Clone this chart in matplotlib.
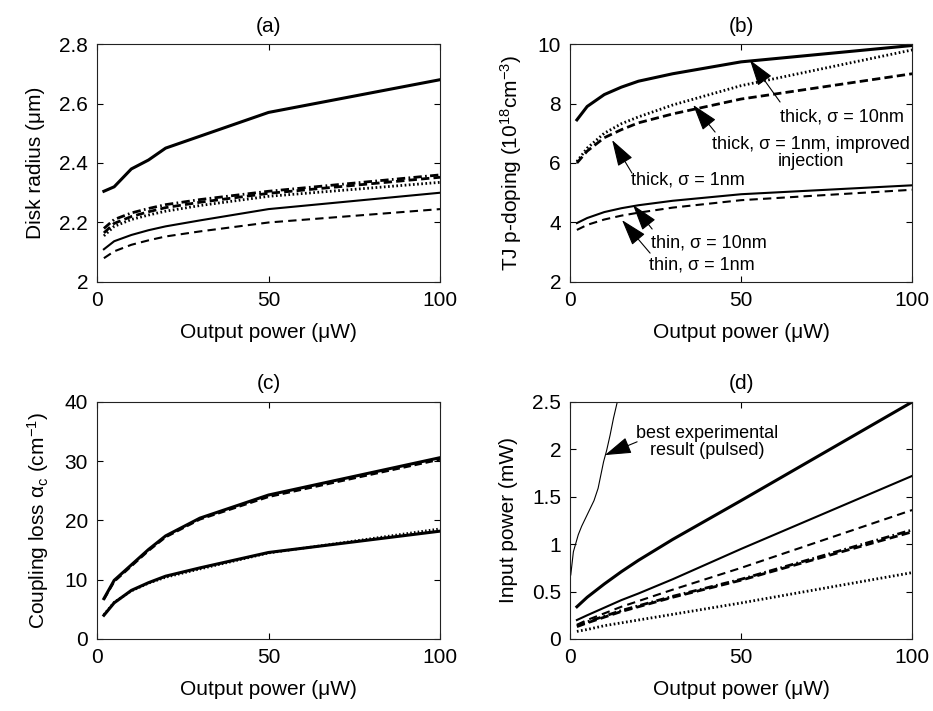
import matplotlib
matplotlib.use('Agg')
import matplotlib.pyplot as plt
import numpy as np

plt.rcParams['font.family'] = ['Liberation Sans', 'DejaVu Sans']
plt.rcParams['font.size'] = 15
plt.rcParams['mathtext.fontset'] = 'custom'
plt.rcParams['mathtext.rm'] = 'Liberation Sans'
plt.rcParams['mathtext.it'] = 'Liberation Sans:italic'
plt.rcParams['mathtext.bf'] = 'Liberation Sans:bold'

# output power grid (uW)
p_out = [2, 5, 10, 15, 20, 30, 50, 100]

# (a) disk radius (um)
rad_thick_10 = [2.305, 2.32, 2.38, 2.41, 2.45, 2.49, 2.57, 2.68]
rad_dashdot = [2.18, 2.21, 2.232, 2.247, 2.26, 2.277, 2.305, 2.36]
rad_thick_1 = [2.165, 2.197, 2.22, 2.236, 2.25, 2.268, 2.298, 2.352]
rad_dotted = [2.155, 2.187, 2.21, 2.225, 2.238, 2.257, 2.288, 2.335]
rad_thin_10 = [2.11, 2.137, 2.158, 2.174, 2.187, 2.207, 2.245, 2.30]
rad_thin_1 = [2.08, 2.103, 2.125, 2.14, 2.153, 2.17, 2.20, 2.245]

# (b) TJ p-doping (1e18 cm^-3)
dop_thick_10 = [7.45, 7.9, 8.3, 8.55, 8.75, 9.0, 9.4, 9.95]
dop_improved = [6.05, 6.5, 7.0, 7.32, 7.55, 7.95, 8.6, 9.8]
dop_thick_1 = [6.0, 6.4, 6.85, 7.12, 7.35, 7.65, 8.15, 9.0]
dop_thin_10 = [3.98, 4.15, 4.35, 4.48, 4.58, 4.73, 4.95, 5.25]
dop_thin_1 = [3.75, 3.92, 4.1, 4.23, 4.33, 4.5, 4.75, 5.1]

# (c) coupling loss (cm^-1)
loss_top_a = [6.8, 9.9, 12.5, 15.1, 17.4, 20.4, 24.3, 30.6]
loss_top_b = [6.7, 9.7, 12.3, 14.9, 17.2, 20.2, 24.0, 30.3]
loss_low_a = [4.0, 6.1, 8.2, 9.5, 10.6, 12.0, 14.6, 18.2]
loss_low_b = [4.1, 6.2, 8.1, 9.4, 10.4, 11.8, 14.5, 18.6]

# (d) input power (mW)
pin_thick_10 = [0.34, 0.44, 0.58, 0.71, 0.83, 1.05, 1.46, 2.5]
pin_thin_10 = [0.2, 0.25, 0.33, 0.41, 0.48, 0.63, 0.95, 1.72]
pin_thin_1 = [0.15, 0.2, 0.27, 0.34, 0.4, 0.52, 0.75, 1.36]
pin_thick_1 = [0.13, 0.17, 0.23, 0.29, 0.34, 0.44, 0.62, 1.13]
pin_dashdot = [0.14, 0.18, 0.24, 0.3, 0.35, 0.45, 0.63, 1.15]
pin_improved = [0.08, 0.1, 0.14, 0.17, 0.2, 0.26, 0.38, 0.7]

# best experimental result (pulsed)
exp_p = [0.2, 0.97, 2.4, 3.4, 5.4, 7.0, 8.2, 9.0, 9.8, 10.7, 11.7, 12.7, 13.8, 14.1]
exp_pin = [0.675, 0.92, 1.10, 1.19, 1.34, 1.46, 1.59, 1.73, 1.87, 1.99, 2.15, 2.33,
           2.50, 2.56]

fig = plt.figure(figsize=(9.33, 7.11), dpi=100)
ax_a = fig.add_axes([0.104, 0.6034, 0.3676, 0.3347])
ax_b = fig.add_axes([0.611, 0.6034, 0.3666, 0.3347])
ax_c = fig.add_axes([0.104, 0.1013, 0.3676, 0.3333])
ax_d = fig.add_axes([0.611, 0.1013, 0.3666, 0.3333])


def style_axes(ax, ylim, yticks, title, ylabel):
    ax.set_xlim(0, 100)
    ax.set_ylim(*ylim)
    ax.set_xticks([0, 50, 100])
    ax.set_yticks(yticks)
    ax.tick_params(direction='in', top=True, right=True, length=4,
                   width=0.8, labelsize=15, pad=6.5)
    for s in ax.spines.values():
        s.set_linewidth(0.8)
        s.set_color('#222222')
    ax.set_title(title, fontsize=15, pad=9)
    ax.set_xlabel('Output power (μW)', fontsize=15, labelpad=9)
    ax.set_ylabel(ylabel, fontsize=15, labelpad=10)


# (a)
ax_a.plot(p_out, rad_thick_10, 'k-', lw=2.2)
ax_a.plot(p_out, rad_dashdot, 'k', lw=2.0, dashes=(3, 1.2, 0.6, 1.2))
ax_a.plot(p_out, rad_thick_1, 'k', lw=2.0, dashes=(3, 1.5))
ax_a.plot(p_out, rad_dotted, 'k', lw=2.0, dashes=(0.6, 0.9))
ax_a.plot(p_out, rad_thin_10, 'k-', lw=1.5)
ax_a.plot(p_out, rad_thin_1, 'k', lw=1.5, dashes=(4, 2.5))
style_axes(ax_a, (2, 2.8), [2, 2.2, 2.4, 2.6, 2.8], '(a)', 'Disk radius (μm)')
ax_a.set_yticklabels(['2', '2.2', '2.4', '2.6', '2.8'])

# (b)
ax_b.plot(p_out, dop_thick_10, 'k-', lw=2.2)
ax_b.plot(p_out, dop_improved, 'k', lw=2.0, dashes=(0.6, 0.9))
ax_b.plot(p_out, dop_thick_1, 'k', lw=2.0, dashes=(3, 1.5))
ax_b.plot(p_out, dop_thin_10, 'k-', lw=1.5)
ax_b.plot(p_out, dop_thin_1, 'k', lw=1.5, dashes=(4, 2.5))
style_axes(ax_b, (2, 10), [2, 4, 6, 8, 10], '(b)',
           'TJ p-doping (10$^{18}$cm$^{-3}$)')

arrow = dict(arrowstyle='-|>,head_length=1.1,head_width=0.35',
             color='k', lw=0.8, shrinkA=0, shrinkB=0)
notes_b = [
    ('thick, σ = 10nm', (52.6, 9.46), (79.5, 7.55), (61.4, 8.05)),
    ('thick, σ = 1nm, improved\ninjection', (36.0, 7.95), (70.5, 6.34), (42.4, 7.04)),
    ('thick, σ = 1nm', (12.3, 6.77), (34.5, 5.43), (18.1, 5.66)),
    ('thin, σ = 10nm', (18.4, 4.59), (40.6, 3.31), (24.0, 3.78)),
    ('thin, σ = 1nm', (15.2, 4.08), (38.5, 2.57), (23.4, 2.97)),
]
for txt, head, pos, tail in notes_b:
    ax_b.annotate('', xy=head, xytext=tail, arrowprops=arrow)
    ax_b.text(pos[0], pos[1], txt, ha='center', va='center', fontsize=13,
              linespacing=1.0)

# (c)
ax_c.plot(p_out, loss_top_a, 'k-', lw=2.2)
ax_c.plot(p_out, loss_top_b, 'k', lw=1.8, dashes=(3, 1.5))
ax_c.plot(p_out, loss_low_a, 'k-', lw=2.2)
ax_c.plot(p_out, loss_low_b, 'k', lw=1.8, dashes=(0.6, 0.9))
style_axes(ax_c, (0, 40), [0, 10, 20, 30, 40], '(c)',
           'Coupling loss α$_{\\rm c}$ (cm$^{-1}$)')

# (d)
ax_d.plot(exp_p, exp_pin, 'k-', lw=0.8)
ax_d.plot(p_out, pin_thick_10, 'k-', lw=2.2)
ax_d.plot(p_out, pin_thin_10, 'k-', lw=1.5)
ax_d.plot(p_out, pin_thin_1, 'k', lw=1.5, dashes=(4, 2.5))
ax_d.plot(p_out, pin_dashdot, 'k', lw=2.0, dashes=(3, 1.2, 0.6, 1.2))
ax_d.plot(p_out, pin_thick_1, 'k', lw=2.0, dashes=(3, 1.5))
ax_d.plot(p_out, pin_improved, 'k', lw=2.0, dashes=(0.6, 0.9))
style_axes(ax_d, (0, 2.5), [0, 0.5, 1, 1.5, 2, 2.5], '(d)', 'Input power (mW)')
ax_d.set_yticklabels(['0', '0.5', '1', '1.5', '2', '2.5'])
ax_d.annotate('', xy=(10.2, 1.94), xytext=(19.6, 2.08), arrowprops=arrow)
ax_d.text(40, 2.08, 'best experimental\nresult (pulsed)', ha='center',
          va='center', fontsize=13, linespacing=1.0)

fig.savefig('out.png', dpi=100)
